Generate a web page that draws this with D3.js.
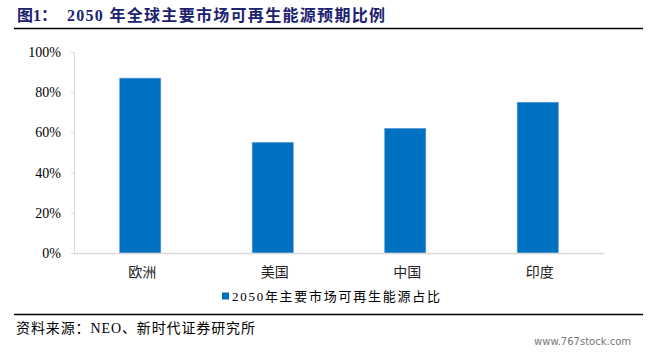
<!DOCTYPE html>
<html>
<head>
<meta charset="utf-8">
<script src="https://cdn.jsdelivr.net/npm/d3@7"></script>
<style>
  body { margin: 0; background: #fff; }
  svg { display: block; }
</style>
</head>
<body>
<div id="chart"></div>
<script>
// 数据
var categories = ['欧洲', '美国', '中国', '印度'];
var shares = [0.87, 0.55, 0.62, 0.75];
var yTicks = [0, 0.2, 0.4, 0.6, 0.8, 1.0];
var seriesName = '2050年主要市场可再生能源占比';

var W = 656, H = 354;
var serif = '"Liberation Serif", "Noto Sans CJK SC", serif';
var cjk = '"Liberation Serif", "Noto Sans CJK SC", sans-serif';

var svg = d3.select('#chart').append('svg')
    .attr('width', W).attr('height', H);

// 标题
svg.append('text')
    .attr('x', 17).attr('y', 21)
    .attr('fill', '#1b2270')
    .attr('font-family', cjk)
    .attr('font-weight', 'bold')
    .attr('font-size', 16)
    .text('图1：');
svg.append('text')
    .attr('x', 67).attr('y', 21)
    .attr('fill', '#1b2270')
    .attr('font-family', cjk)
    .attr('font-weight', 'bold')
    .attr('font-size', 16)
    .attr('textLength', 318).attr('lengthAdjust', 'spacing')
    .text('2050 年全球主要市场可再生能源预期比例');
svg.append('line')
    .attr('x1', 14).attr('x2', 643).attr('y1', 28.5).attr('y2', 28.5)
    .attr('stroke', '#000').attr('stroke-width', 1.3);

// 比例尺
var x = d3.scaleBand().domain(categories).range([74, 604])
    .paddingInner(0.69).paddingOuter(0.345);
var y = d3.scaleLinear().domain([0, 1]).range([253, 52]);

// y轴
var yAxis = svg.append('g')
    .attr('transform', 'translate(74,0)')
    .call(d3.axisLeft(y).tickValues(yTicks).tickFormat(d3.format('.0%')).tickSize(3).tickPadding(10));
yAxis.select('.domain').attr('stroke', '#d9d9d9');
yAxis.selectAll('.tick line').attr('stroke', '#d9d9d9');
yAxis.selectAll('.tick text')
    .attr('font-family', serif).attr('font-size', 14).attr('fill', '#000');

// 柱子
svg.append('g').selectAll('rect')
    .data(shares)
    .join('rect')
    .attr('x', function (d, i) { return x(categories[i]); })
    .attr('y', function (d) { return y(d); })
    .attr('width', x.bandwidth())
    .attr('height', function (d) { return y(0) - y(d); })
    .attr('fill', '#0070c0')
    .attr('stroke', '#5a9bd5')
    .attr('stroke-width', 0.6);

// x轴
var xAxis = svg.append('g')
    .attr('transform', 'translate(0,253)')
    .call(d3.axisBottom(x).tickSize(0).tickPadding(14));
xAxis.select('.domain').attr('stroke', '#d9d9d9').attr('stroke-width', 1.3);
xAxis.selectAll('.tick text')
    .attr('font-family', cjk).attr('font-size', 14).attr('fill', '#222')
    .attr('dx', 2);

// 图例
svg.append('rect')
    .attr('x', 222).attr('y', 292.5).attr('width', 7).attr('height', 7)
    .attr('fill', '#0070c0');
svg.append('text')
    .attr('x', 232).attr('y', 301)
    .attr('font-family', cjk).attr('font-size', 13)
    .attr('textLength', 208).attr('lengthAdjust', 'spacing')
    .attr('fill', '#000')
    .text(seriesName);

// 来源
svg.append('line')
    .attr('x1', 14).attr('x2', 643).attr('y1', 314.5).attr('y2', 314.5)
    .attr('stroke', '#000').attr('stroke-width', 1.3);
svg.append('text')
    .attr('x', 16).attr('y', 333)
    .attr('font-family', cjk).attr('font-size', 14)
    .attr('textLength', 239).attr('lengthAdjust', 'spacing')
    .attr('fill', '#000')
    .text('资料来源：NEO、新时代证券研究所');
svg.append('text')
    .attr('x', 631).attr('y', 345)
    .attr('text-anchor', 'end')
    .attr('font-family', '"DejaVu Sans", sans-serif').attr('font-size', 10)
    .attr('fill', '#777')
    .text('www.767stock.com');
</script>
</body>
</html>
